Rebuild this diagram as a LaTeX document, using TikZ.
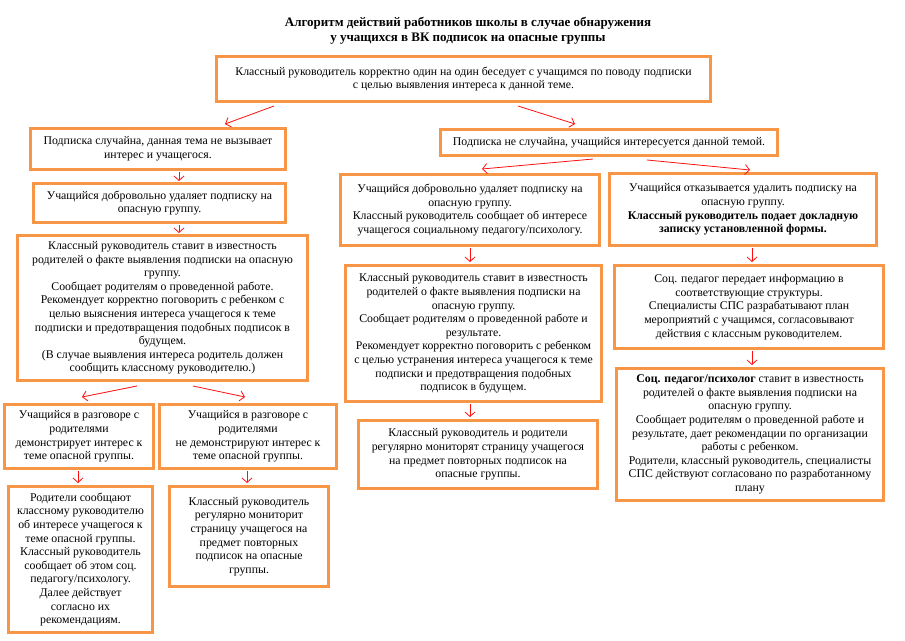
\documentclass[tikz,border=0pt]{standalone}
\usepackage{fontspec}
\setmainfont{Liberation Serif}
\usetikzlibrary{arrows.meta,calc}
\definecolor{boxor}{HTML}{F79646}
\definecolor{arrred}{HTML}{FF1010}
\tikzset{
  box/.style={draw=boxor, line width=3pt, fill=white, align=center, inner sep=0pt,
    font=\fontsize{11.8}{13.6}\selectfont, text=black},
  arr/.style={draw=arrred, line width=0.8pt, -{Straight Barb[length=4.5pt,width=10pt]}},
  ttl/.style={align=center, font=\fontsize{13}{15.5}\selectfont\bfseries, inner sep=0pt}
}
\begin{document}
\begin{tikzpicture}[x=1pt,y=-1pt]
\useasboundingbox (0,0) rectangle (905,640);
\node[ttl] (title) at (468,30.5) {Алгоритм действий работников школы в случае обнаружения\\у учащихся в ВК подписок на опасные группы};

\node[box, minimum width=494, minimum height=45] (b1) at (463.5,79)
 {Классный руководитель корректно один на один беседует с учащимся по поводу подписки\\с целью выявления интереса к данной теме.};

\node[box, minimum width=255, minimum height=41] (l1) at (158,149)
 {Подписка случайна, данная тема не вызывает\\интерес и учащегося.};
\node[box, minimum width=252, minimum height=39] (l2) at (159.5,203)
 {Учащийся добровольно удаляет подписку на\\опасную группу.};
\node[box, minimum width=290, minimum height=145] (l3) at (162.5,308)
 {Классный руководитель ставит в известность\\родителей о факте выявления подписки на опасную\\группу.\\Сообщает родителям о проведенной работе.\\Рекомендует корректно поговорить с ребенком с\\целью выяснения интереса учащегося к теме\\подписки и предотвращения подобных подписок в\\будущем.\\(В случае выявления интереса родитель должен\\сообщить классному руководителю.)};
\node[box, minimum width=149, minimum height=64] (l4a) at (79,436.5)
 {Учащийся в разговоре с\\родителями\\демонстрирует интерес к\\теме опасной группы.};
\node[box, minimum width=177, minimum height=64] (l4b) at (248,436.5)
 {Учащийся в разговоре с\\родителями\\не демонстрируют интерес к\\теме опасной группы.};
\node[box, minimum width=144, minimum height=146] (l5a) at (80.5,559.5)
 {Родители сообщают\\классному руководителю\\об интересе учащегося к\\теме опасной группы.\\Классный руководитель\\сообщает об этом соц.\\педагогу/психологу.\\Далее действует\\согласно их\\рекомендациям.};
\node[box, minimum width=159, minimum height=100] (l5b) at (249,536.5)
 {Классный руководитель\\регулярно мониторит\\страницу учащегося на\\предмет повторных\\подписок на опасные\\группы.};

\node[box, minimum width=337, minimum height=26] (r1) at (609,142.5)
 {Подписка не случайна, учащийся интересуется данной темой.};
\node[box, minimum width=259, minimum height=71] (r2a) at (470,210)
 {Учащийся добровольно удаляет подписку на\\опасную группу.\\Классный руководитель сообщает об интересе\\учащегося социальному педагогу/психологу.};
\node[box, minimum width=267, minimum height=72] (r2b) at (743,209.5)
 {Учащийся отказывается удалить подписку на\\опасную группу.\\\textbf{Классный руководитель подает докладную}\\\textbf{записку установленной формы.}};
\node[box, minimum width=256, minimum height=136] (r3a) at (473.5,333.5)
 {Классный руководитель ставит в известность\\родителей о факте выявления подписки на\\опасную группу.\\Сообщает родителям о проведенной работе и\\результате.\\Рекомендует корректно поговорить с ребенком\\с целью устранения интереса учащегося к теме\\подписки и предотвращения подобных\\подписок в будущем.};
\node[box, minimum width=239, minimum height=68] (r4a) at (478,454.5)
 {Классный руководитель и родители\\регулярно мониторят страницу учащегося\\на предмет повторных подписок на\\опасные группы.};
\node[box, minimum width=269, minimum height=83] (r3b) at (749,307)
 {Соц. педагог передает информацию в\\соответствующие структуры.\\Специалисты СПС разрабатывают план\\мероприятий с учащимся, согласовывают\\действия с классным руководителем.};
\node[box, minimum width=267, minimum height=132] (r4b) at (750,434.5)
 {\textbf{Соц. педагог/психолог} ставит в известность\\родителей о факте выявления подписки на\\опасную группу.\\Сообщает родителям о проведенной работе и\\результате, дает рекомендации по организации\\работы с ребенком.\\Родители, классный руководитель, специалисты\\СПС действуют согласовано по разработанному\\плану};

% connectors
\draw[arr] ($(b1.south west)+(59,3)$) -- ($(l1.north west)+(196,-3)$);
\draw[arr] ($(b1.south west)+(303,3)$) -- ($(r1.north west)+(136,-4)$);
\draw[arr] ($(l1.south)+(21,1)$) -- ($(l2.north)+(19.5,-1)$);
\draw[arr] ($(l2.south)+(19.5,1)$) -- ($(l3.north)+(16.5,-1)$);
\draw[arr] ($(l3.south)+(-25.5,4)$) -- ($(l4a.north)+(3,-6)$);
\draw[arr] ($(l3.south)+(30.5,4)$) -- ($(l4b.north)+(-3,-6)$);
\draw[arr] ($(l4a.south)+(-1,1)$) -- ($(l5a.north)+(-2.5,-2)$);
\draw[arr] ($(l4b.south)+(-1,1)$) -- ($(l5b.north)+(-2,-2)$);
\draw[arr] ($(r1.south)+(-16,2)$) -- ($(r2a.north)+(12,-4)$);
\draw[arr] ($(r1.south)+(38,3)$) -- ($(r2b.north)+(7,-2)$);
\draw[arr] ($(r2a.south)+(0,1)$) -- ($(r3a.north)+(-3.5,-2)$);
\draw[arr] ($(r3a.south)+(-3.5,1)$) -- ($(r4a.north)+(-8,-2)$);
\draw[arr] ($(r2b.south)+(9,1)$) -- ($(r3b.north)+(3,-2)$);
\draw[arr] ($(r3b.south)+(3,1)$) -- ($(r4b.north)+(2,-2)$);
\end{tikzpicture}
\end{document}
